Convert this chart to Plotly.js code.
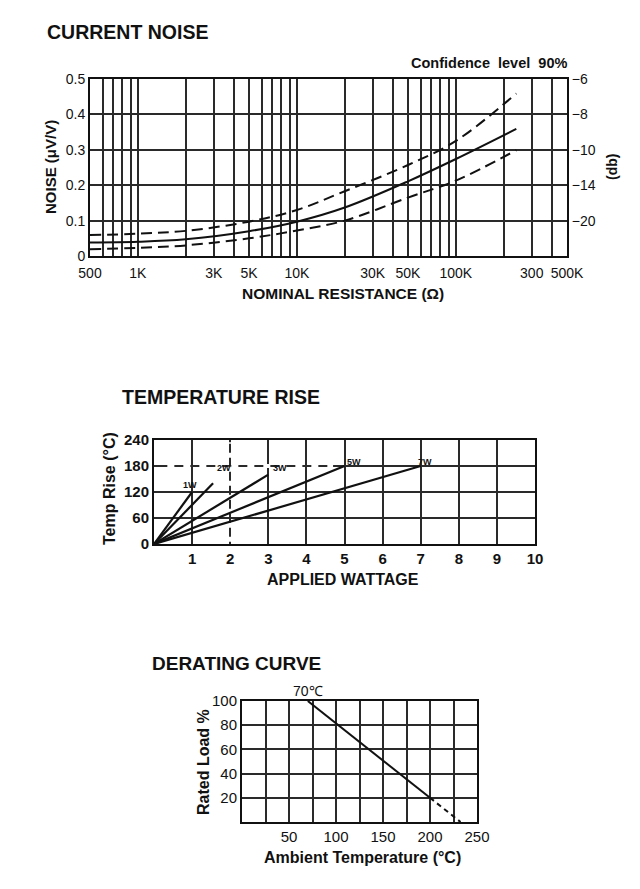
<!DOCTYPE html>
<html>
<head>
<meta charset="utf-8">
<script src="https://cdn.plot.ly/plotly-3.0.1.min.js"></script>
<style>
  html, body { margin: 0; padding: 0; background: #ffffff; }
  #chart { width: 640px; height: 889px; }
</style>
</head>
<body>
<div id="chart"></div>
<script>
// ---------- Current noise ----------
const noiseResistance = [500, 1000, 2000, 5000, 10000, 20000, 50000, 100000, 240000];
const noiseUpper  = [0.059, 0.063, 0.071, 0.097, 0.130, 0.183, 0.257, 0.325, 0.459];
const noiseMedian = [0.038, 0.040, 0.047, 0.070, 0.097, 0.137, 0.211, 0.274, 0.359];
const noiseLower  = [0.019, 0.023, 0.030, 0.050, 0.072, 0.100, 0.165, 0.213, 0.299];
const resTickVals  = [500, 1000, 3000, 5000, 10000, 30000, 50000, 100000, 300000, 500000];
const resTickText  = ['500', '1K', '3K', '5K', '10K', '30K', '50K', '100K', '300', '500K'];
const resGridVals  = [600, 700, 800, 900, 2000, 4000, 6000, 7000, 8000, 9000,
                      20000, 40000, 60000, 70000, 80000, 90000, 200000, 400000];
const noiseTickVals = [0, 0.1, 0.2, 0.3, 0.4, 0.5];
const noiseTickText = ['0', '0.1', '0.2', '0.3', '0.4', '0.5'];
const dbTickVals = [0.5, 0.4, 0.3, 0.2, 0.1];
const dbTickText = ['\u22126', '\u22128', '\u221210', '\u221214', '\u221220'];

// ---------- Temperature rise ----------
const ratingLabels = ['1W', '2W', '3W', '5W', '7W'];
const ratingEndWatt = [1, 1.55, 3, 5, 7];
const ratingEndRise = [120, 140, 160, 180, 180];
const wattTickVals = [1, 2, 3, 4, 5, 6, 7, 8, 9, 10];
const riseTickVals = [0, 60, 120, 180, 240];

// ---------- Derating curve ----------
const deratingTemp = [70, 200];
const deratingLoad = [100, 20];
const deratingExtTemp = [200, 232.5];
const deratingExtLoad = [20, 0];
const ambientTickVals = [50, 100, 150, 200, 250];
const loadTickVals = [20, 40, 60, 80, 100];

// ---------- helpers ----------
const W = 640, H = 889;
const INK = '#111111';
const GRID = '#2a2a2a';
const FONT = 'Liberation Sans, Arial, Helvetica, sans-serif';
const GW = 2;
function dx(a, b) { return [a / W, b / W]; }
function dy(top, bottom) { return [1 - bottom / H, 1 - top / H]; }
function paperText(text, x, y, size, opts) {
  return Object.assign({
    text: text, x: x / W, y: 1 - y / H, xref: 'paper', yref: 'paper',
    showarrow: false, xanchor: 'center', yanchor: 'middle', borderpad: 0,
    font: { family: FONT, size: size, color: INK }
  }, opts || {});
}
const frame = { showline: true, mirror: true, linewidth: 2, linecolor: INK, zeroline: false, ticks: '', fixedrange: true };
const grid = { showgrid: true, gridcolor: GRID, gridwidth: GW };

const traces = [];
const dashStyle = '11px,6px';
traces.push({ x: noiseResistance, y: noiseUpper, xaxis: 'x', yaxis: 'y', mode: 'lines',
  line: { color: INK, width: 2, dash: dashStyle, shape: 'spline', smoothing: 1 }, hoverinfo: 'skip', name: 'upper' });
traces.push({ x: noiseResistance, y: noiseMedian, xaxis: 'x', yaxis: 'y', mode: 'lines',
  line: { color: INK, width: 2, shape: 'spline', smoothing: 1 }, hoverinfo: 'skip', name: 'median' });
traces.push({ x: noiseResistance, y: noiseLower, xaxis: 'x', yaxis: 'y', mode: 'lines',
  line: { color: INK, width: 2, dash: dashStyle, shape: 'spline', smoothing: 1 }, hoverinfo: 'skip', name: 'lower' });
// invisible trace to activate the right (db) axis
traces.push({ x: [noiseResistance[0]], y: [0], xaxis: 'x', yaxis: 'y2', mode: 'markers',
  marker: { opacity: 0 }, hoverinfo: 'skip', showlegend: false });

ratingLabels.forEach(function (lab, i) {
  traces.push({ x: [0, ratingEndWatt[i]], y: [0, ratingEndRise[i]], xaxis: 'x2', yaxis: 'y3', mode: 'lines',
    line: { color: INK, width: 2.2 }, hoverinfo: 'skip', name: lab, cliponaxis: false });
});

traces.push({ x: deratingTemp, y: deratingLoad, xaxis: 'x3', yaxis: 'y4', mode: 'lines',
  line: { color: INK, width: 2 }, hoverinfo: 'skip', name: 'derating' });
traces.push({ x: deratingExtTemp, y: deratingExtLoad, xaxis: 'x3', yaxis: 'y4', mode: 'lines',
  line: { color: INK, width: 2, dash: '5px,4px' }, hoverinfo: 'skip', name: 'extension' });

const layout = {
  width: W, height: H, autosize: false,
  margin: { l: 0, r: 0, t: 0, b: 0 },
  paper_bgcolor: '#ffffff', plot_bgcolor: '#ffffff',
  showlegend: false,
  font: { family: FONT, color: INK },

  xaxis: Object.assign({}, frame, grid, {
    type: 'log', domain: dx(90, 567), anchor: 'y',
    range: [Math.log10(500), Math.log10(500000)],
    tickmode: 'array', tickvals: resTickVals, ticktext: resTickText,
    ticklabelstandoff: 3,
    tickfont: { family: FONT, size: 14, color: INK },
    minor: { tickmode: 'array', tickvals: resGridVals, showgrid: true, gridcolor: GRID, gridwidth: GW, ticks: '' }
  }),
  yaxis: Object.assign({}, frame, grid, {
    domain: dy(79, 256), anchor: 'x', range: [0, 0.5],
    tickmode: 'array', tickvals: noiseTickVals, ticktext: noiseTickText,
    tickfont: { family: FONT, size: 14, color: INK }
  }),
  yaxis2: Object.assign({}, frame, {
    overlaying: 'y', side: 'right', anchor: 'x', range: [0, 0.5], showgrid: false,
    tickmode: 'array', tickvals: dbTickVals, ticktext: dbTickText,
    tickfont: { family: FONT, size: 14, color: INK }
  }),

  xaxis2: Object.assign({}, frame, grid, {
    domain: dx(154, 535), anchor: 'y3', range: [0, 10],
    tickmode: 'array', tickvals: wattTickVals,
    tickfont: { family: FONT, size: 15, color: INK, weight: 'bold' }
  }),
  yaxis3: Object.assign({}, frame, grid, {
    domain: dy(440, 544), anchor: 'x2', range: [0, 240],
    tickmode: 'array', tickvals: riseTickVals,
    tickfont: { family: FONT, size: 15, color: INK, weight: 'bold' }
  }),

  xaxis3: Object.assign({}, frame, grid, {
    domain: dx(242, 477), anchor: 'y4', range: [0, 250],
    tickmode: 'array', tickvals: ambientTickVals,
    tickfont: { family: FONT, size: 15, color: INK },
    minor: { dtick: 25, tick0: 0, showgrid: true, gridcolor: GRID, gridwidth: GW, ticks: '' }
  }),
  yaxis4: Object.assign({}, frame, grid, {
    domain: dy(701, 822), anchor: 'x3', range: [0, 100],
    tickmode: 'array', tickvals: loadTickVals,
    tickfont: { family: FONT, size: 15, color: INK }
  }),

  shapes: [
    { type: 'line', xref: 'x2', yref: 'y3', x0: 0.35, x1: 4.7, y0: 180, y1: 180, layer: 'between',
      line: { color: '#ffffff', width: 4, dash: '7px,9px' } },
    { type: 'line', xref: 'x2', yref: 'y3', x0: 2, x1: 2, y0: 5, y1: 235, layer: 'between',
      line: { color: '#ffffff', width: 4, dash: '5px,9px' } }
  ],

  annotations: [
    paperText('<b>CURRENT NOISE</b>', 46, 32, 19.5, { xanchor: 'left' }),
    paperText('<b>Confidence&nbsp; level&nbsp; 90%</b>', 568, 63, 14.5, { xanchor: 'right' }),
    paperText('<b>NOISE (\u03bcV/V)</b>', 50, 167, 15, { textangle: -90 }),
    paperText('<b>(db)</b>', 612, 167, 14, { textangle: -90 }),
    paperText('<b>NOMINAL RESISTANCE (\u03a9)</b>', 343, 293, 15.5),

    paperText('<b>TEMPERATURE RISE</b>', 121, 397, 19.5, { xanchor: 'left' }),
    paperText('<b>Temp Rise (\u00b0C)</b>', 109, 489, 16, { textangle: -90 }),
    paperText('<b>APPLIED WATTAGE</b>', 343, 579, 16),

    paperText('<b>DERATING CURVE</b>', 151, 663, 19, { xanchor: 'left' }),
    paperText('<b>Rated Load %</b>', 203, 762, 16, { textangle: -90 }),
    paperText('<b>Ambient Temperature (\u00b0C)</b>', 362, 857, 16),
    { text: '70\u2103', x: deratingTemp[0], y: deratingLoad[0], xref: 'x3', yref: 'y4', showarrow: false,
      xanchor: 'center', yanchor: 'bottom', yshift: 0, font: { family: FONT, size: 14, color: INK } }
  ]
};

// rating labels on the temperature-rise chart
const ratingLabelPos = [[0.95, 137], [1.85, 176], [3.3, 176], [5.25, 190], [7.1, 190]];
ratingLabels.forEach(function (lab, i) {
  layout.annotations.push({ text: '<b>' + lab + '</b>', x: ratingLabelPos[i][0], y: ratingLabelPos[i][1],
    xref: 'x2', yref: 'y3', showarrow: false, font: { family: FONT, size: 9, color: INK } });
});

Plotly.newPlot('chart', traces, layout, { staticPlot: true, displayModeBar: false });
</script>
</body>
</html>
